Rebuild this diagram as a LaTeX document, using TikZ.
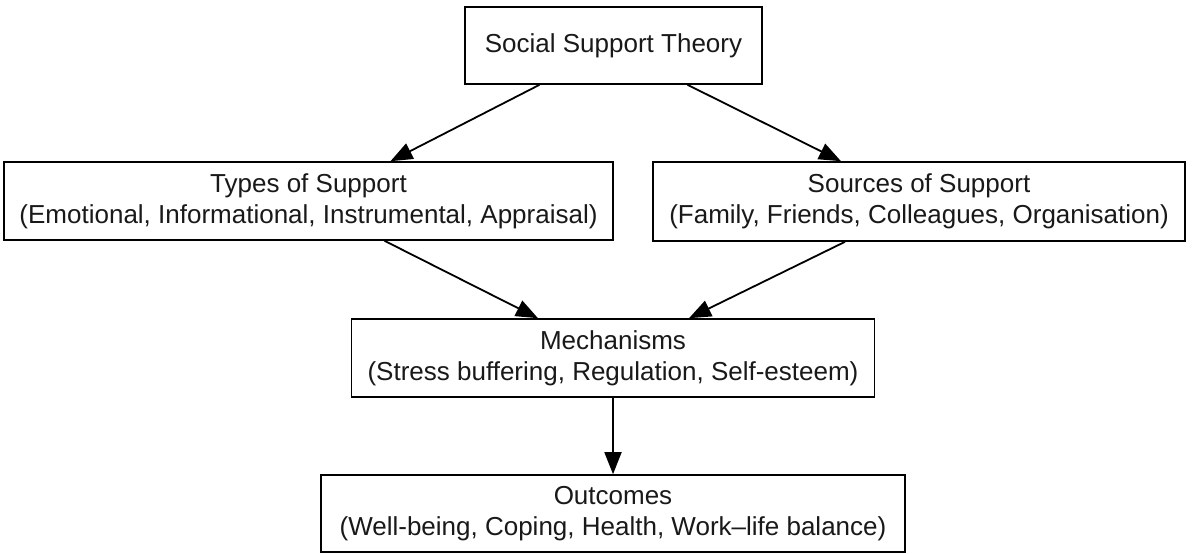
\documentclass[tikz,border=0pt]{standalone}
\usepackage{fontspec}
\setmainfont{Liberation Sans}
\usetikzlibrary{arrows.meta,calc}
\begin{document}
\begin{tikzpicture}[x=1pt,y=-1pt,
  box/.style={draw=black, line width=1.6pt, fill=white, inner sep=0pt,
    align=center, font=\fontsize{26}{31}\selectfont, text=black!90},
  link/.style={draw=black, line width=1.8pt,
    -{Triangle[length=22pt,width=17pt]}}]
  \useasboundingbox (0,0) rectangle (1192,554);
  \fill[white] (0,0) rectangle (1192,554);

  % theory, its two branches, the mechanisms and the outcomes
  \node[box, minimum width=297pt, minimum height=77pt] (theory) at (613.5,45.5)
    {Social Support Theory};
  \node[box, minimum width=609pt, minimum height=78pt] (types) at (308.5,201)
    {Types of Support\\(Emotional, Informational, Instrumental, Appraisal)};
  \node[box, minimum width=532pt, minimum height=79pt] (sources) at (919,201.5)
    {Sources of Support\\(Family, Friends, Colleagues, Organisation)};
  \node[box, minimum width=523pt, minimum height=78pt] (mech) at (613,358)
    {Mechanisms\\(Stress buffering, Regulation, Self-esteem)};
  \node[box, minimum width=584pt, minimum height=77pt] (out) at (613,513.5)
    {Outcomes\\(Well-being, Coping, Health, Work--life balance)};

  % connectors between the boxes
  \draw[link] ($(theory.south)+(-74,0)$) -- ($(types.north)+(82,0)$);
  \draw[link] ($(theory.south)+(74,0)$) -- ($(sources.north)+(-78,0)$);
  \draw[link] ($(types.south)+(76,0)$) -- ($(mech.north)+(-75,0)$);
  \draw[link] ($(sources.south)+(-74,0)$) -- ($(mech.north)+(76,0)$);
  \draw[link] (mech.south) -- (out.north);
\end{tikzpicture}
\end{document}
